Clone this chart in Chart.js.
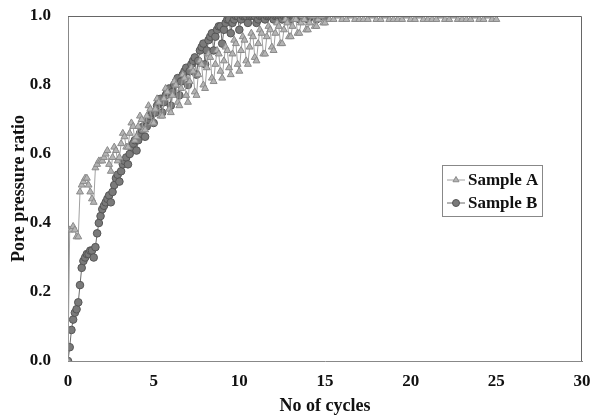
<!DOCTYPE html>
<html>
<head>
<meta charset="utf-8">
<script src="https://cdn.jsdelivr.net/npm/chart.js@4.4.1/dist/chart.umd.min.js"></script>
<style>
  html, body { margin: 0; padding: 0; background: #fff; }
  #wrap { width: 590px; height: 417px; }
</style>
</head>
<body>
<div id="wrap"><canvas id="graphCanvas" width="590" height="417"></canvas></div>
<script>
// readings every 0.1 cycle from 0 to 15
var readStep = 0.1;

var ratioA = [
  0, .38, .38, .39, .38,   .36, .36, .49, .51, .52,
  .53, .53, .51, .49, .47, .46, .56, .57, .58, .58,
  .58, .59, .60, .61, .57, .55, .59, .62, .61, .58,
  .59, .63, .66, .65, .62, .62, .66, .69, .68, .64,
  .65, .68, .71, .70, .67, .67, .71, .74, .73, .69,
  .69, .73, .76, .75, .71, .71, .76, .79, .78, .73,
  .72, .77, .81, .80, .75, .74, .79, .83, .82, .77,
  .75, .81, .85, .84, .78, .77, .83, .87, .86, .80,
  .79, .85, .89, .88, .82, .81, .86, .90, .89, .84,
  .82, .87, .91, .90, .85, .83, .89, .93, .92, .86,
  .84, .90, .94, .93, .87, .86, .91, .95, .94, .88,
  .87, .92, .96, .95, .89, .89, .94, .97, .96, .91,
  .90, .95, .98, .97, .92, .92, .96, .99, .98, .94,
  .94, .97, .99, .99, .95, .95, .98, 1.0, .99, .96,
  .96, .98, 1.0, 1.0, .97, .97, .99, 1.0, 1.0, .98,
  .98
];

// sample A after 15 cycles, read every quarter cycle
var tailCyclesA = [
  15.25, 15.5, 15.75, 16, 16.25, 16.5, 16.75, 17, 17.25, 17.5,
  17.75, 18, 18.25, 18.5, 18.75, 19, 19.25, 19.5, 19.75, 20,
  20.25, 20.5, 20.75, 21, 21.25, 21.5, 21.75, 22, 22.25, 22.5,
  22.75, 23, 23.25, 23.5, 23.75, 24, 24.25, 24.5, 24.75, 25
];
var tailRatioA = [
  .99, .99, 1.0, .99, .99, 1.0, .99, .99, .99, .99,
  1.0, .99, .99, 1.0, .99, .99, .99, .99, 1.0, .99,
  .99, 1.0, .99, .99, .99, .99, 1.0, .99, .99, 1.0,
  .99, .99, .99, .99, 1.0, .99, .99, 1.0, .99, .99
];

var ratioB = [
  0, .04, .09, .12, .14, .15, .17, .22, .27, .29,
  .30, .31, .31, .32, .32, .30, .33, .37, .40, .42,
  .44, .45, .46, .47, .48, .46, .49, .51, .53, .54,
  .52, .55, .57, .58, .59, .57, .60, .62, .63, .64,
  .61, .64, .66, .67, .68, .65, .68, .70, .71, .72,
  .69, .72, .74, .75, .76, .72, .75, .77, .78, .79,
  .74, .78, .80, .81, .82, .77, .81, .83, .84, .85,
  .80, .84, .86, .87, .88, .83, .87, .90, .91, .92,
  .86, .90, .93, .94, .95, .90, .94, .96, .97, .97,
  .92, .96, .98, .99, .99, .95, .98, .99, 1.0, 1.0,
  .96, .99, 1.0, 1.0, 1.0, .98, 1.0, 1.0, 1.0, 1.0,
  .98, .99, 1.0, 1.0, 1.0, .99, 1.0, 1.0, 1.0, 1.0,
  .99, 1.0, 1.0, 1.0, 1.0, .99, 1.0, 1.0, 1.0, 1.0,
  .99, 1.0, 1.0, 1.0, 1.0, .99, 1.0, 1.0, 1.0, 1.0,
  .99, 1.0, 1.0, 1.0, 1.0, .99, 1.0, 1.0, 1.0, 1.0,
  1.0
];

var xTicks = [0, 5, 10, 15, 20, 25, 30];
var yTicks = [0.0, 0.2, 0.4, 0.6, 0.8, 1.0];

function toPoints(cycles, values) {
  var pts = [];
  for (var i = 0; i < values.length; i++) {
    pts.push({ x: cycles[i], y: values[i] });
  }
  return pts;
}

var gridCycles = [];
for (var i = 0; i < ratioA.length; i++) {
  gridCycles.push(Math.round(i * readStep * 10) / 10);
}

var dataA = toPoints(gridCycles, ratioA).concat(toPoints(tailCyclesA, tailRatioA));
var dataB = toPoints(gridCycles, ratioB);

var serif = "'Liberation Serif', 'Times New Roman', serif";

// top and right frame lines are solid, left and bottom are dashed
var frameLines = {
  id: 'frameLines',
  afterDraw: function (chart) {
    var a = chart.chartArea, ctx = chart.ctx;
    ctx.save();
    ctx.strokeStyle = '#666';
    ctx.lineWidth = 1;
    ctx.beginPath();
    ctx.moveTo(a.left, a.top + 0.5);
    ctx.lineTo(a.right - 0.5, a.top + 0.5);
    ctx.lineTo(a.right - 0.5, a.bottom);
    ctx.stroke();
    ctx.restore();
  }
};

var boxLegend = {
  id: 'boxLegend',
  afterDraw: function (chart) {
    var ctx = chart.ctx;
    var x = 442, y = 165, w = 100, h = 51;
    ctx.save();
    ctx.fillStyle = '#fff';
    ctx.fillRect(x, y, w, h);
    ctx.strokeStyle = '#888';
    ctx.lineWidth = 1;
    ctx.strokeRect(x + 0.5, y + 0.5, w, h);
    chart.data.datasets.forEach(function (ds, i) {
      var cy = y + 15 + i * 23;
      ctx.strokeStyle = ds.borderColor;
      ctx.beginPath();
      ctx.moveTo(x + 5, cy);
      ctx.lineTo(x + 23, cy);
      ctx.stroke();
      ctx.fillStyle = ds.pointBackgroundColor;
      ctx.strokeStyle = ds.pointBorderColor;
      Chart.helpers.drawPoint(ctx, {
        pointStyle: ds.pointStyle, radius: 3.5, borderWidth: 1
      }, x + 14, cy);
      ctx.fillStyle = '#111';
      ctx.font = 'bold 17px ' + serif;
      ctx.textBaseline = 'middle';
      ctx.fillText(ds.label, x + 26, cy + 1);
    });
    ctx.restore();
  }
};

var graphTarget = document.getElementById('graphCanvas');
var chart = new Chart(graphTarget, {
  type: 'scatter',
  data: {
    datasets: [
      {
        label: 'Sample A',
        data: dataA,
        showLine: true,
        borderColor: '#a0a0a0',
        borderWidth: 1,
        pointStyle: 'triangle',
        pointRadius: 4,
        pointBackgroundColor: '#b4b4b4',
        pointBorderColor: '#8a8a8a',
        pointBorderWidth: 1
      },
      {
        label: 'Sample B',
        data: dataB,
        showLine: true,
        borderColor: '#6a6a6a',
        borderWidth: 1,
        pointStyle: 'circle',
        pointRadius: 3.8,
        pointBackgroundColor: '#7a7a7a',
        pointBorderColor: '#555',
        pointBorderWidth: 1
      }
    ]
  },
  options: {
    responsive: false,
    animation: false,
    layout: { padding: { top: 16, right: 0, left: 0, bottom: 0 } },
    plugins: {
      legend: { display: false },
      tooltip: { enabled: false }
    },
    scales: {
      x: {
        type: 'linear',
        min: 0,
        max: 30,
        afterBuildTicks: function (axis) {
          axis.ticks = xTicks.map(function (v) { return { value: v }; });
        },
        afterFit: function (axis) {
          axis.height = 56;
          axis.paddingLeft = 0;
          axis.paddingRight = 8;
        },
        ticks: {
          color: '#111',
          padding: 10,
          font: { family: serif, size: 17, weight: 'bold' }
        },
        grid: { display: false, drawTicks: false },
        border: { display: true, color: '#888', width: 1, dash: [3, 3] },
        title: {
          display: true,
          text: 'No of cycles',
          color: '#111',
          padding: { top: 0, bottom: 0 },
          font: { family: serif, size: 18, weight: 'bold' }
        }
      },
      y: {
        min: 0,
        max: 1,
        afterBuildTicks: function (axis) {
          axis.ticks = yTicks.map(function (v) { return { value: v }; });
        },
        afterFit: function (axis) {
          axis.width = 68;
          axis.paddingTop = 0;
          axis.paddingBottom = 0;
        },
        ticks: {
          color: '#111',
          padding: 17,
          font: { family: serif, size: 17, weight: 'bold' },
          callback: function (v) { return v.toFixed(1); }
        },
        grid: { display: false, drawTicks: false },
        border: { display: true, color: '#888', width: 1, dash: [3, 3] },
        title: {
          display: true,
          text: 'Pore pressure ratio',
          color: '#111',
          padding: { top: 9, bottom: 0 },
          font: { family: serif, size: 18, weight: 'bold' }
        }
      }
    }
  },
  plugins: [frameLines, boxLegend]
});
</script>
</body>
</html>
